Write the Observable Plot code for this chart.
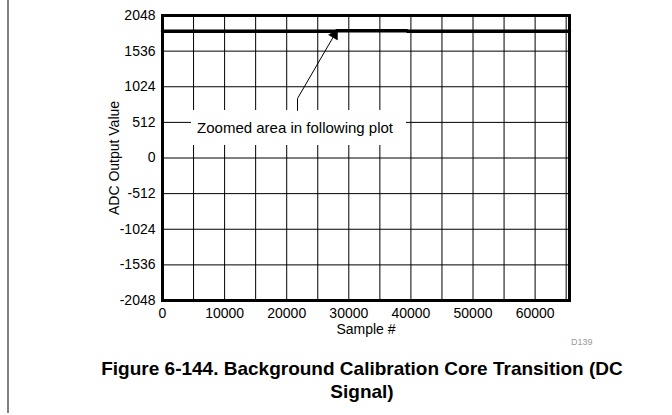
<!DOCTYPE html>
<html><head><meta charset="utf-8">
<script src="https://cdn.jsdelivr.net/npm/d3@7"></script>
<script src="https://cdn.jsdelivr.net/npm/@observablehq/plot@0.6"></script>
<style>
html,body{margin:0;padding:0;background:#fff;}
body{width:672px;height:415px;overflow:hidden;position:relative;font-family:"Liberation Sans",Arial,sans-serif;}
#border{position:absolute;left:7px;top:0;width:2px;height:413px;background:#808080;z-index:5;}
#chart{position:absolute;left:0;top:0;z-index:1;}
#code{position:absolute;left:571px;top:337px;font-size:9px;color:#9a9a9a;z-index:5;}
#caption{position:absolute;left:60px;width:604px;top:357px;text-align:center;font-weight:bold;font-size:19px;line-height:23px;color:#000;z-index:5;}
</style></head>
<body>
<div id="chart"></div>
<div id="border"></div>
<div id="code">D139</div>
<div id="caption">Figure 6-144. Background Calibration Core Transition (DC<br>Signal)</div>
<script>
// Data series (ADC output of a DC signal across the calibration-core transition)
const sampleIdx = [0, 28000, 28000, 39400, 39400, 65535];
const adcOut    = [1822, 1822, 1830, 1830, 1820, 1820];

// Axis ticks / grid
const xTicks = [0, 10000, 20000, 30000, 40000, 50000, 60000];
const xGrid  = [0, 5000, 10000, 15000, 20000, 25000, 30000, 35000, 40000, 45000, 50000, 55000, 60000, 65000];
const yTicks = [-2048, -1536, -1024, -512, 0, 512, 1024, 1536, 2048];

// Annotation
const noteText = ["Zoomed area in following plot"];
const noteAt   = [21340, 424];
const noteBoxX = [4670, 39290];
const noteBoxY = [180, 683];
const leaderX  = [21740, 21740, 28180];
const leaderY  = [683, 855, 1845];

const series = sampleIdx.map((s, i) => ({s, v: adcOut[i]}));
const leader = leaderX.map((x, i) => ({x, y: leaderY[i]}));
const box = [{x1: noteBoxX[0], x2: noteBoxX[1], y1: noteBoxY[0], y2: noteBoxY[1]}];
const note = [{x: noteAt[0], y: noteAt[1], t: noteText[0]}];
const tip = [leader[leader.length - 1]];

const fmt = d => String(d);

const chart = Plot.plot({
  width: 672,
  height: 355,
  marginTop: 15,
  marginBottom: 55,
  marginLeft: 162,
  marginRight: 103,
  style: {fontFamily: "'Liberation Sans', Arial, sans-serif", fontSize: "14px", color: "black", background: "white"},
  x: {domain: [0, 65536]},
  y: {domain: [-2048, 2048]},
  marks: [
    Plot.gridX(xGrid, {stroke: "black", strokeOpacity: 1, strokeWidth: 1}),
    Plot.gridY(yTicks, {stroke: "black", strokeOpacity: 1, strokeWidth: 1}),
    Plot.rect(box, {x1: "x1", x2: "x2", y1: "y1", y2: "y2", fill: "white"}),
    Plot.text(note, {x: "x", y: "y", text: "t", fontSize: 15, fill: "black"}),
    Plot.line(series, {x: "s", y: "v", stroke: "black", strokeWidth: 3.5}),
    Plot.line(leader, {x: "x", y: "y", stroke: "black", strokeWidth: 1}),
    Plot.dot(tip, {x: "x", y: "y", symbol: "triangle", r: 3.8, rotate: 30, dx: -3, dy: 5.2, fill: "black", stroke: "black", strokeWidth: 0.5}),
    Plot.frame({stroke: "black", strokeWidth: 3}),
    Plot.axisX({ticks: xTicks, tickSize: 0, tickPadding: 8, tickFormat: fmt, fontSize: 14,
                label: "Sample #", labelAnchor: "center", labelArrow: "none", labelOffset: 33}),
    Plot.axisY({ticks: yTicks, tickSize: 0, tickPadding: 7, tickFormat: fmt, fontSize: 14,
                label: "ADC Output Value", labelAnchor: "center", labelArrow: "none", labelOffset: 53})
  ]
});
document.getElementById("chart").appendChild(chart);
</script>
</body></html>
